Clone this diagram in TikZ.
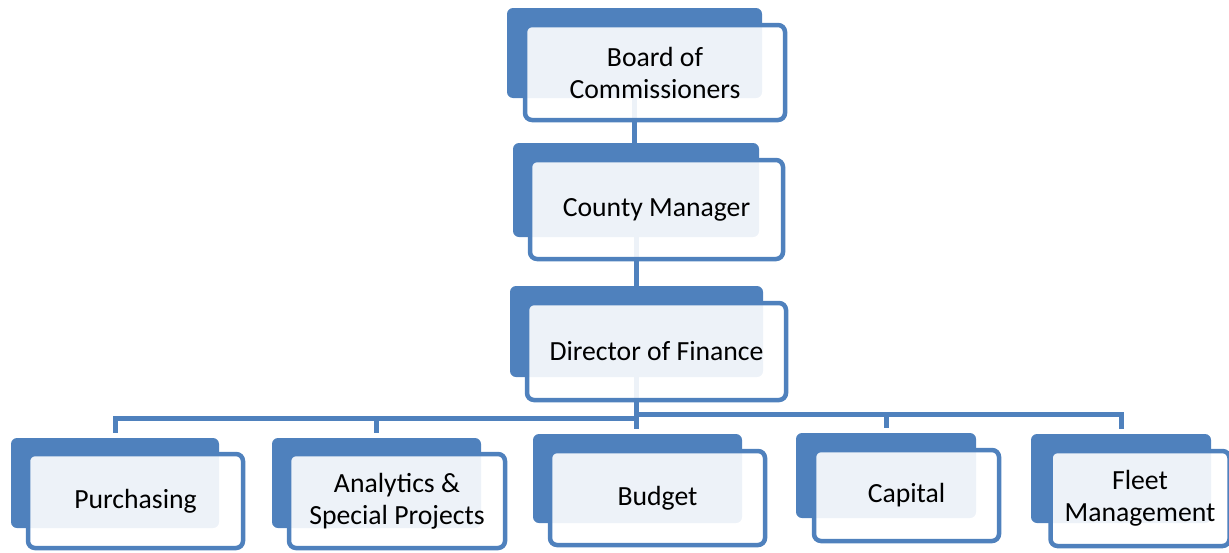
\documentclass[tikz,border=0pt]{standalone}
\usepackage{fontspec}
\setmainfont{Carlito}
\usepackage{xcolor}
\usetikzlibrary{positioning, calc}
\definecolor{officeblue}{HTML}{4F81BD}

\begin{document}
\begin{tikzpicture}[x=1pt, y=-1pt,
    backbox/.style={fill=officeblue, rounded corners=6pt, inner sep=0pt},
    frontbox/.style={draw=officeblue, line width=4.5pt, fill=white, fill opacity=0.9, text opacity=1,
        rounded corners=7pt, align=center, inner sep=0pt, font=\fontsize{27.7}{32}\selectfont},
    link/.style={draw=officeblue, line width=5pt}]
    \useasboundingbox (0,0) rectangle (1229,552);

    % --- BACK PANELS ---
    \node[backbox, minimum width=255pt, minimum height=90pt] (boardB) at (634.5,53) {};
    \node[backbox, minimum width=246pt, minimum height=94pt] (managerB) at (636,190) {};
    \node[backbox, minimum width=253pt, minimum height=91pt] (directorB) at (636.5,331.5) {};
    \node[backbox, minimum width=208pt, minimum height=90pt] (purchB) at (115,483) {};
    \node[backbox, minimum width=209pt, minimum height=90pt] (analyticsB) at (376.5,483) {};
    \node[backbox, minimum width=209pt, minimum height=89pt] (budgetB) at (637.5,478.5) {};
    \node[backbox, minimum width=180pt, minimum height=85pt] (capitalB) at (886,475.5) {};
    \node[backbox, minimum width=180pt, minimum height=89pt] (fleetB) at (1121,478.5) {};

    % --- CONNECTORS ---
    \draw[link] (boardB.south) -- (boardB.south |- managerB.north);
    \draw[link] (managerB.south) -- (managerB.south |- directorB.north);
    % Left branch
    \draw[link, shorten >=5pt] (directorB.south) -- ++(0,41) -| (purchB.north);
    \draw[link, shorten >=5pt] (directorB.south) -- ++(0,41) -| (analyticsB.north);
    % Middle and right branch
    \draw[link, shorten >=5pt] (directorB.south) -- (directorB.south |- budgetB.north);
    \draw[link, shorten >=5pt] (directorB.south) -- ++(0,37) -| (capitalB.north);
    \draw[link, shorten >=5pt] (directorB.south) -- ++(0,37) -| (fleetB.north);

    % --- FRONT PANELS ---
    \node[frontbox, minimum width=260pt, minimum height=95pt] (board) at (655,72.5) {Board of\\Commissioners};
    \node[frontbox, minimum width=253pt, minimum height=99pt] (manager) at (656.5,209.5) {County Manager};
    \node[frontbox, minimum width=259pt, minimum height=97pt] (director) at (656.5,351.5) {Director of Finance};
    \node[frontbox, minimum width=215pt, minimum height=94pt] (purch) at (135.5,501) {Purchasing};
    \node[frontbox, minimum width=216pt, minimum height=94pt] (analytics) at (397,501) {Analytics \&\\Special Projects};
    \node[frontbox, minimum width=215pt, minimum height=94pt] (budget) at (657.5,498) {Budget};
    \node[frontbox, minimum width=185pt, minimum height=91pt] (capital) at (906.5,495.5) {Capital};
    \node[frontbox, minimum width=179pt, minimum height=95pt] (fleet) at (1140,498.5) {Fleet\\Management};
\end{tikzpicture}
\end{document}
